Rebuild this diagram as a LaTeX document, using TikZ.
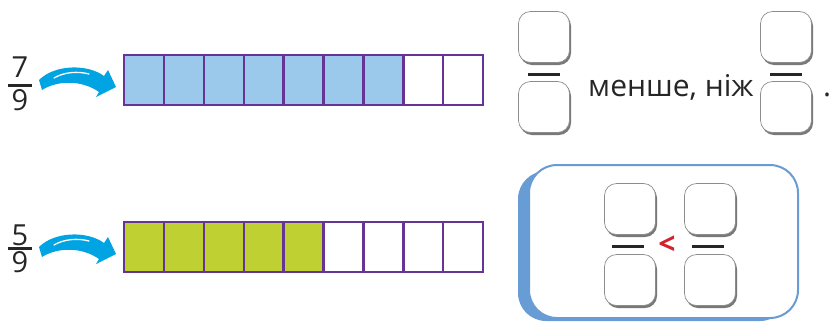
\documentclass[tikz,border=0pt]{standalone}
\usepackage{fontspec}
\setmainfont{Open Sans}
\usepackage{tikz}
\usetikzlibrary{positioning,arrows.meta,calc,shadows}
\definecolor{barpurple}{RGB}{102,52,148}
\definecolor{barblue}{RGB}{155,201,235}
\definecolor{bargreen}{RGB}{190,208,50}
\definecolor{arrowblue}{RGB}{0,164,226}
\definecolor{panelblue}{RGB}{104,156,212}
\definecolor{ltred}{RGB}{210,35,45}
\tikzset{
  cell/.style={draw=barpurple, line width=2.4pt, minimum width=39.9pt, minimum height=50pt,
               inner sep=0pt, outer sep=0pt},
  slot/.style={draw=black!45, fill=white, rounded corners=12pt, minimum size=51pt, line width=0.7pt,
               drop shadow={shadow xshift=1.5pt, shadow yshift=-2.5pt, fill=black!75, opacity=0.7}},
  fracbar/.style={line width=3pt, black!85},
  digit/.style={font=\fontsize{29}{29}\selectfont, inner sep=0pt, text=black!85},
  gleam/.style={white, line width=1.3pt, line cap=round},
  txt/.style={font=\fontsize{30}{30}\selectfont, inner sep=0pt, text=black!85},
  swoosh/.pic={
    \fill[arrowblue] (42,90) .. controls (58,80) and (82,80) .. (99,92)
      -- (96,97) -- (116,87) -- (108,70) -- (104,76)
      .. controls (88,64) and (55,64) .. (39,80) -- cycle;
    \draw[gleam] (54,78) .. controls (64,72) and (78,71) .. (89,74);
  }
}
\begin{document}
\begin{tikzpicture}[x=1pt, y=-1pt]
  \useasboundingbox (0,0) rectangle (830,322);
  % fractions on the left
  \node[digit] (n1) at (20,67) {7};
  \node[digit] (d1) at (20,100) {9};
  \draw[fracbar] (8,85) -- (32,85);
  \node[digit] (n2) at (20,235) {5};
  \node[digit] (d2) at (20,262) {9};
  \draw[fracbar] (8,248) -- (32,248);
  % bars of nine cells
  \foreach \i in {1,...,7}
    \node[cell, fill=barblue] (b1-\i) at ({143.95+(\i-1)*39.9},80) {};
  \foreach \i in {8,9}
    \node[cell, fill=white] (b1-\i) at ({143.95+(\i-1)*39.9},80) {};
  \foreach \i in {1,...,5}
    \node[cell, fill=bargreen] (b2-\i) at ({143.95+(\i-1)*39.9},247) {};
  \foreach \i in {6,...,9}
    \node[cell, fill=white] (b2-\i) at ({143.95+(\i-1)*39.9},247) {};
  % arrows
  \pic at (0,0) {swoosh};
  \pic at (0,167) {swoosh};
  % sentence with empty fractions
  \node[slot] (s1) at (544,37) {};
  \node[slot] (s2) at (544,107) {};
  \draw[fracbar] (528,74) -- (560,74);
  \node[txt, anchor=base west] (w) at (588,96) {менше, ніж};
  \node[slot] (s3) at (786,37) {};
  \node[slot] (s4) at (786,107) {};
  \draw[fracbar] (770,74) -- (802,74);
  \node[txt, anchor=base] (dot) at (827,96) {.};
  % panel with comparison
  \fill[panelblue, rounded corners=28pt] (518,171) rectangle (788,321);
  \draw[panelblue, fill=white, line width=2pt, rounded corners=28pt] (529,165) rectangle (798,318);
  \node[slot] (p1) at (630,209) {};
  \node[slot] (p2) at (630,280) {};
  \draw[fracbar] (612,246) -- (644,246);
  \node[slot] (p3) at (710,209) {};
  \node[slot] (p4) at (710,280) {};
  \draw[fracbar] (692,246) -- (724,246);
  \node[txt, text=ltred, font=\fontsize{30}{30}\selectfont\bfseries] (lt) at (667,245) {<};
\end{tikzpicture}
\end{document}
